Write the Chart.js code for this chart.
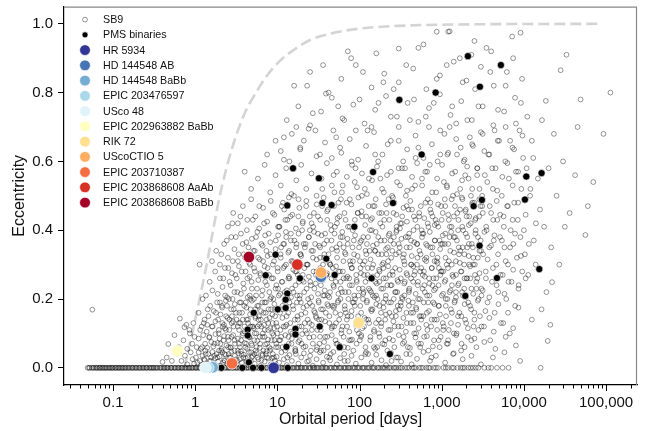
<!DOCTYPE html>
<html><head><meta charset="utf-8">
<script src="https://cdn.jsdelivr.net/npm/chart.js@4.4.0/dist/chart.umd.min.js"></script>
<style>html,body{margin:0;padding:0;background:#fff;}canvas{display:block;}</style>
</head><body>
<canvas id="c" width="647" height="431"></canvas>
<script>
// ---------- axis ticks ----------
const xMajorTicks = [0.1, 1, 10, 100, 1000, 10000, 100000];
const xMajorLabels = ['0.1', '1', '10', '100', '1,000', '10,000', '100,000'];
const xMinorTicks = [0.03,0.04,0.05,0.06,0.07,0.08,0.09,0.2,0.3,0.4,0.5,0.6,0.7,0.8,0.9,2,3,4,5,6,7,8,9,20,30,40,50,60,70,80,90,200,300,400,500,600,700,800,900,2000,3000,4000,5000,6000,7000,8000,9000,20000,30000,40000,50000,60000,70000,80000,90000,200000];
const yTickValues = [0.0, 0.2, 0.4, 0.6, 0.8, 1.0];

// ---------- envelope (dashed) ----------
const envelopePeriod = [0.74,0.9,1.13,1.38,1.65,1.95,2.4,3.0,4.0,5.5,7.5,10.5,16,25,45,100,300,1500,90000];
const envelopeEcc    = [0.0,0.09,0.2,0.3,0.4,0.49,0.58,0.66,0.74,0.8,0.85,0.89,0.925,0.953,0.972,0.986,0.994,0.998,1.0];

// ---------- SB9: circular orbits (e = 0) ----------
const sb9CircularPeriods = [0.049,0.052,0.055,0.058,0.061,0.064,0.067,0.07,0.073,0.077,0.08,0.084,0.088,0.092,0.096,0.1,0.105,0.11,0.115,0.12,0.126,0.132,0.138,0.145,0.152,0.16,0.168,0.176,0.185,0.195,0.205,0.215,0.226,0.237,0.25,0.26,0.275,0.29,0.3,0.315,0.33,0.35,0.37,0.39,0.41,0.43,0.45,0.47,0.5,0.52,0.55,0.58,0.61,0.64,0.67,0.7,0.74,0.78,0.82,0.86,0.9,0.95,1.0,1.05,1.1,1.16,1.22,1.28,1.35,1.42,1.5,1.58,1.66,1.75,1.85,1.95,2.05,2.15,2.27,2.4,2.52,2.65,2.8,2.95,3.1,3.27,3.45,3.6,3.8,4.0,4.2,4.45,4.7,4.95,5.2,5.5,5.8,6.1,6.4,6.8,7.2,7.6,8.0,8.4,8.9,9.4,9.9,10.5,11,11.6,12.2,12.9,13.6,14.3,15.1,16,17,18,19,20,21.2,22.5,24,25.5,27,28.5,30,32,34,36,38,40,43,46,49,52,56,60,64,68,72,77,82,88,94,100,108,115,123,132,142,152,165,178,190,205,220,240,260,280,300,330,360,400,440,480,530,590,650,720,800,900,1050,1200,1400,1550,1700,1900,2100,2400,2800,3300,4000,4700,5500,6500,16000,
0.051,0.057,0.063,0.069,0.075,0.082,0.09,0.098,0.108,0.118,0.129,0.141,0.155,0.172,0.19,0.21,0.232,0.255,0.282,0.31,0.34,0.38,0.42,0.46,0.51,0.565,0.625,0.69,0.76,0.84,0.92,1.02,1.13,1.25,1.38,1.54,1.7,1.9,2.1,2.34,2.58,2.87,3.2,3.53,3.9,4.33,4.82,5.35,5.95,6.6,7.4,8.2,9.1,10.2,11.3,12.5,14,15.5,17.5,19.5,21.8,24.7,27.7,31,35,39,44.5,50.5,58,66,74,85,97,111,128,147,170,198,230,270,315,380,460,560,690,850,1120,1330,1800,2250,2600,3700]

// ---------- SB9: eccentric orbits [period (d), eccentricity] ----------
const sb9Eccentric = [
[0.4,0.017],[0.45,0.03],[0.52,0.02],[0.6,0.04],[0.68,0.02],[0.75,0.035],[0.8,0.01],[0.88,0.045],[0.93,0.025],[0.97,0.012],
[1.02,0.03],[1.06,0.015],[1.1,0.045],[1.14,0.02],[1.19,0.008],[1.23,0.035],[1.28,0.025],[1.33,0.05],[1.38,0.012],[1.44,0.04],[1.5,0.02],[1.56,0.03],[1.62,0.046],[1.68,0.01],[1.75,0.028],[1.82,0.04],[1.9,0.018],[1.98,0.033],[2.06,0.006],[2.15,0.045],[2.24,0.022],[2.35,0.038],[2.46,0.012],[2.6,0.03],[2.75,0.047],[2.9,0.02],[3.05,0.035],
[3.2,0.01],[3.35,0.042],[3.5,0.025],[3.7,0.015],[3.9,0.038],[4.1,0.028],[4.3,0.008],[4.5,0.046],[4.75,0.02],[5.0,0.034],[5.3,0.012],[5.6,0.043],[5.9,0.025],[6.2,0.006],[6.6,0.036],[7.0,0.018],[7.4,0.048],[7.8,0.028],[8.3,0.01],[8.8,0.04],[9.3,0.022],[9.8,0.032],
[10.5,0.015],[11.2,0.045],[12,0.025],[13,0.008],[14,0.037],[15,0.02],[16.5,0.048],[18,0.012],[19.5,0.03],[21,0.042],[23,0.018],[25,0.035],[27,0.006],[30,0.025],[33,0.045],[36,0.015],[40,0.032],[44,0.022],[48,0.046],[53,0.01],[58,0.028],[65,0.04],[72,0.02],[80,0.035],[90,0.012],
[105,0.03],[120,0.045],[140,0.015],[160,0.038],[185,0.022],[210,0.008],[240,0.044],[280,0.03],[320,0.018],[370,0.04],[430,0.01],[500,0.026],[600,0.046],[720,0.02],[850,0.035],
[1100,0.015],[1400,0.042],[1800,0.025],[2300,0.035],[3000,0.01],[4200,0.03],[5800,0.045],[9000,0.02],
[0.47,0.069],[0.56,0.095],[0.63,0.06],[0.72,0.08],[0.8,0.055],[0.86,0.1],[0.92,0.07],[0.98,0.09],
[1.04,0.06],[1.1,0.085],[1.17,0.055],[1.25,0.095],[1.32,0.07],[1.4,0.058],[1.48,0.088],[1.57,0.075],[1.66,0.062],[1.76,0.098],[1.87,0.072],[1.98,0.085],[2.1,0.055],[2.25,0.092],[2.4,0.065],[2.55,0.08],[2.72,0.058],[2.9,0.095],[3.05,0.07],
[3.3,0.085],[3.5,0.06],[3.75,0.095],[4.0,0.072],[4.3,0.055],[4.6,0.088],[4.9,0.065],[5.3,0.1],[5.7,0.078],[6.1,0.058],[6.6,0.09],[7.1,0.068],[7.7,0.082],[8.3,0.055],[9,0.095],[9.7,0.07],
[10.5,0.08],[11.5,0.06],[12.5,0.095],[13.7,0.07],[15,0.085],[16.5,0.055],[18,0.075],[20,0.098],[22,0.062],[24.5,0.088],[27,0.07],[30,0.052],[33,0.09],[37,0.075],[41,0.06],[46,0.095],[51,0.08],[57,0.065],[64,0.09],[72,0.058],[81,0.082],[92,0.07],
[105,0.095],[118,0.06],[135,0.08],[155,0.055],[175,0.09],[200,0.068],[230,0.085],[265,0.06],[300,0.095],[350,0.075],[410,0.058],[480,0.088],[560,0.07],[660,0.092],[780,0.062],[920,0.08],
[1150,0.07],[1500,0.095],[1900,0.06],[2500,0.085],[3300,0.075],[4500,0.055],[6000,0.09],[8000,0.065],[19500,0.078],
[0.056,0.169],[0.65,0.143],[0.74,0.118],[0.78,0.125],[0.85,0.11],[0.95,0.13],[1.1,0.16],[1.2,0.12],
[1.23,0.2],[1.3,0.14],[1.38,0.105],[1.45,0.15],[1.52,0.18],[1.6,0.12],[1.68,0.165],[1.76,0.135],[1.85,0.19],[1.94,0.11],[2.03,0.155],[2.13,0.175],[2.24,0.125],[2.36,0.195],[2.48,0.145],[2.6,0.11],[2.74,0.17],[2.88,0.135],[3.03,0.185],
[3.3,0.12],[3.45,0.16],[3.6,0.19],[3.8,0.14],[4.0,0.105],[4.2,0.175],[4.4,0.13],[4.65,0.155],[4.9,0.195],[5.15,0.115],[5.4,0.145],[5.7,0.18],[6.0,0.125],[6.3,0.165],[6.65,0.1],[7.0,0.19],[7.4,0.14],[7.8,0.17],[8.2,0.115],[8.7,0.155],[9.2,0.185],[9.7,0.13],
[10.3,0.17],[10.9,0.11],[11.5,0.145],[12.2,0.195],[12.9,0.125],[13.6,0.16],[14.5,0.105],[15.4,0.18],[16.3,0.14],[17.3,0.19],[18.4,0.12],[19.5,0.155],[20.7,0.175],[22,0.108],[23.4,0.14],[24.8,0.188],[26.3,0.125],[28,0.165],[29.8,0.145],[31.7,0.195],[33.7,0.11],[35.8,0.17],[38,0.135],[40.5,0.185],[43,0.15],[45.7,0.115],[48.6,0.175],[51.7,0.13],[55,0.195],[58.5,0.155],[62,0.12],[66,0.18],[70,0.14],[75,0.105],[80,0.165],[85,0.19],[90,0.125],[96,0.15],
[102,0.18],[108,0.115],[115,0.145],[123,0.195],[131,0.13],[140,0.165],[150,0.105],[160,0.185],[171,0.14],[183,0.12],[196,0.175],[210,0.155],[225,0.11],[241,0.19],[258,0.135],[277,0.165],[297,0.12],[318,0.18],[341,0.145],[366,0.105],[393,0.195],[422,0.16],[453,0.13],[487,0.175],[523,0.115],[562,0.15],[604,0.19],[650,0.125],[700,0.165],[755,0.14],[815,0.185],[880,0.11],[950,0.155],
[1030,0.13],[1120,0.18],[1220,0.11],[1330,0.16],[1450,0.195],[1580,0.125],[1730,0.15],[1900,0.185],[2080,0.115],[2280,0.17],[2500,0.14],[2750,0.195],[3050,0.12],[3400,0.165],[3800,0.145],[4300,0.105],[4900,0.185],[5600,0.13],[6400,0.16],[7400,0.115],[8600,0.175],[12500,0.14],[16400,0.17],[21000,0.125],
[1.13,0.3],[1.35,0.21],[1.5,0.25],[1.62,0.225],[1.75,0.28],[1.88,0.215],[2.0,0.26],[2.15,0.235],[2.3,0.29],[2.45,0.205],[2.62,0.25],[2.8,0.275],[3.0,0.22],
[3.2,0.26],[3.4,0.295],[3.6,0.215],[3.85,0.245],[4.1,0.28],[4.35,0.205],[4.6,0.265],[4.9,0.23],[5.2,0.29],[5.5,0.21],[5.85,0.255],[6.2,0.275],[6.6,0.225],[7.0,0.295],[7.45,0.24],[7.9,0.27],[8.4,0.205],[8.9,0.26],[9.5,0.23],
[10.1,0.28],[10.8,0.215],[11.5,0.25],[12.2,0.295],[13,0.225],[13.8,0.265],[14.7,0.205],[15.6,0.285],[16.6,0.24],[17.7,0.27],[18.8,0.21],[20,0.255],[21.3,0.29],[22.7,0.23],[24.2,0.265],[25.8,0.205],[27.5,0.28],[29.3,0.245],[31.2,0.215],[33.2,0.29],[35.4,0.255],[37.7,0.225],[40.2,0.275],[42.8,0.205],[45.6,0.26],[48.6,0.235],[51.8,0.295],[55.2,0.215],[58.8,0.25],[62.7,0.28],[66.8,0.22],[71.2,0.265],[75.9,0.24],[80.9,0.29],[86.2,0.21],[91.9,0.255],[98,0.23],
[104,0.275],[111,0.215],[118,0.25],[126,0.29],[134,0.225],[143,0.265],[152,0.205],[162,0.245],[173,0.285],[184,0.23],[196,0.26],[209,0.21],[223,0.295],[238,0.24],[254,0.27],[271,0.22],[289,0.255],[308,0.285],[328,0.205],[350,0.245],[373,0.275],[398,0.225],[424,0.26],[452,0.295],[482,0.215],[514,0.25],[548,0.28],[584,0.23],[623,0.265],[664,0.21],[708,0.245],[755,0.29],[805,0.225],[858,0.26],[915,0.24],[975,0.28],
[1040,0.215],[1110,0.255],[1190,0.29],[1280,0.225],[1380,0.265],[1490,0.205],[1610,0.245],[1740,0.28],[1880,0.23],[2040,0.26],[2220,0.295],[2420,0.215],[2640,0.25],[2880,0.275],[3150,0.225],[3450,0.26],[3800,0.205],[4200,0.29],[4650,0.24],[5200,0.27],[5800,0.215],[6500,0.25],[7400,0.285],[8600,0.23],[10500,0.26],[22000,0.249],
[1.6,0.31],[1.8,0.34],[2.0,0.3],[2.25,0.36],[2.5,0.32],[2.75,0.38],[3.0,0.345],[3.3,0.31],[3.6,0.39],[3.9,0.33],[4.2,0.365],[4.55,0.305],[4.9,0.375],[5.3,0.34],[5.7,0.395],[6.1,0.315],[6.6,0.355],[7.1,0.385],[7.6,0.325],[8.2,0.365],[8.8,0.3],[9.5,0.345],
[10.2,0.385],[11,0.32],[11.8,0.36],[12.7,0.395],[13.6,0.335],[14.6,0.37],[15.7,0.305],[16.9,0.35],[18.1,0.39],[19.5,0.325],[20.9,0.36],[22.5,0.3],[24.2,0.38],[26,0.34],[27.9,0.395],[30,0.315],[32.2,0.355],[34.6,0.385],[37.2,0.33],[40,0.37],[43,0.305],[46.2,0.345],[49.6,0.39],[53.3,0.32],[57.3,0.36],[61.6,0.395],[66.2,0.335],[71.1,0.375],[76.4,0.31],[82.1,0.35],[88.2,0.385],[94.8,0.325],
[102,0.365],[110,0.3],[118,0.34],[127,0.38],[136,0.315],[146,0.355],[157,0.395],[169,0.33],[182,0.37],[195,0.305],[210,0.345],[226,0.385],[243,0.32],[261,0.36],[280,0.395],[301,0.335],[324,0.375],[348,0.31],[374,0.35],[402,0.39],[432,0.325],[464,0.365],[499,0.3],[536,0.34],[576,0.38],[620,0.315],[666,0.355],[716,0.395],[770,0.33],[828,0.37],[890,0.305],[957,0.345],
[1030,0.385],[1110,0.32],[1200,0.36],[1300,0.395],[1410,0.335],[1530,0.37],[1660,0.305],[1800,0.35],[1960,0.39],[2130,0.325],[2320,0.36],[2530,0.3],[2760,0.38],[3010,0.34],[3300,0.395],[3620,0.315],[3980,0.355],[4380,0.385],[4850,0.33],[5400,0.37],[6000,0.31],[6800,0.35],[7800,0.39],[9200,0.325],[11500,0.36],[31500,0.41],
[2.5,0.41],[2.9,0.45],[3.3,0.42],[3.8,0.47],[4.3,0.43],[4.8,0.49],[5.4,0.44],[6.0,0.405],[6.7,0.465],[7.5,0.425],[8.3,0.485],[9.2,0.445],
[10.2,0.41],[11.3,0.47],[12.5,0.43],[13.8,0.495],[15.2,0.445],[16.8,0.405],[18.5,0.465],[20.4,0.425],[22.5,0.485],[24.8,0.44],[27.3,0.41],[30.1,0.475],[33.2,0.43],[36.6,0.495],[40.3,0.455],[44.4,0.415],[48.9,0.47],[53.9,0.435],[59.4,0.49],[65.5,0.45],[72.2,0.41],[79.6,0.475],[87.7,0.43],[96.7,0.495],
[106,0.455],[117,0.415],[129,0.47],[142,0.435],[157,0.49],[173,0.45],[190,0.41],[210,0.475],[231,0.43],[255,0.495],[281,0.445],[310,0.405],[342,0.465],[377,0.425],[415,0.485],[458,0.44],[505,0.41],[556,0.47],[613,0.435],[676,0.49],[745,0.45],[821,0.415],[905,0.475],[998,0.43],
[1090,0.49],[1200,0.445],[1320,0.41],[1450,0.47],[1600,0.43],[1760,0.495],[1940,0.455],[2140,0.415],[2360,0.475],[2600,0.435],[2870,0.49],[3160,0.45],[3480,0.41],[3840,0.47],[4230,0.43],[4670,0.485],[5150,0.445],[5700,0.41],[6400,0.47],[7300,0.43],[8500,0.48],[10500,0.445],[14000,0.42],[56000,0.386],
[4.0,0.57],[4.8,0.52],[5.8,0.55],[7.0,0.59],[8.2,0.51],[9.5,0.56],[11,0.53],[12.8,0.58],[14.8,0.505],[17,0.545],[19.5,0.59],[22.5,0.52],[26,0.565],[30,0.5],[34.5,0.55],[40,0.595],[46,0.53],[53,0.57],[61,0.51],[70,0.555],[81,0.59],[93,0.525],[107,0.565],[123,0.505],[142,0.545],[163,0.585],[188,0.52],[216,0.56],[249,0.5],[286,0.54],[329,0.58],[379,0.515],[436,0.555],[502,0.595],[578,0.53],[665,0.57],[765,0.51],[880,0.55],[1010,0.59],[1160,0.525],[1340,0.565],[1540,0.505],[1770,0.545],[2040,0.585],[2350,0.52],[2700,0.56],[3110,0.5],[3580,0.54],[4120,0.58],[4740,0.515],[5460,0.555],[6300,0.595],[7300,0.53],[8500,0.57],[12000,0.52],[42000,0.56],[70000,0.54],
[7.5,0.62],[9.5,0.66],[12,0.605],[15,0.68],[19,0.635],[24,0.695],[30,0.615],[38,0.655],[48,0.69],[60,0.625],[76,0.665],[96,0.605],[120,0.645],[150,0.685],[190,0.62],[240,0.66],[300,0.7],[380,0.635],[480,0.675],[600,0.61],[760,0.65],[960,0.69],[1200,0.625],[1500,0.665],[1900,0.605],[2400,0.645],[3000,0.685],[3800,0.62],[4800,0.66],[6000,0.7],[7600,0.635],[9600,0.675],[13000,0.61],[93000,0.68],
[13,0.72],[18,0.76],[25,0.705],[34,0.745],[46,0.785],[62,0.725],[84,0.765],[115,0.71],[155,0.75],[210,0.79],[285,0.73],[385,0.77],[520,0.715],[700,0.755],[950,0.795],[1280,0.735],[1730,0.775],[2330,0.72],[3150,0.76],[4250,0.705],[5750,0.745],[7800,0.785],[11000,0.73],[18500,0.776],[49000,0.78],
[16,0.82],[39,0.797],[25,0.86],[60,0.84],[90,0.88],[140,0.815],[200,0.855],[300,0.83],[450,0.87],[650,0.81],[950,0.85],[1400,0.89],[2000,0.835],[3000,0.875],[4300,0.82],[6200,0.86],[9500,0.84],[28000,0.865],[113000,0.8],
[79,0.9],[160,0.914],[300,0.928],[870,0.977],[1200,0.977],[1250,0.978],[9100,0.974],[7200,0.963],[600,0.94],[2500,0.95],[33000,0.91],[4000,0.92],
[2.02,0.07],[2.08,0.33],[2.11,0.18],[2.17,0.12],[2.2,0.26],[2.28,0.04],[2.31,0.21],[2.38,0.15],[2.42,0.37],[2.5,0.09],[2.53,0.29],[2.58,0.2],[2.66,0.06],[2.7,0.24],[2.78,0.13],[2.83,0.42],[2.86,0.31],[2.95,0.17],[3.02,0.08],[3.08,0.27],[3.12,0.38],[3.18,0.14],[3.25,0.22],[3.3,0.05],[3.38,0.33],[3.42,0.11],[3.48,0.19],[3.55,0.44],[3.62,0.08],[3.68,0.28],[3.72,0.16],[3.78,0.36],[3.85,0.03],[3.92,0.23],[3.98,0.12],[4.05,0.32],[4.12,0.19],[4.18,0.07],[4.25,0.4],[4.32,0.26],[4.38,0.14],[4.45,0.35],[4.52,0.09],[4.6,0.21],[4.66,0.3],[4.72,0.17],[4.8,0.045],[4.86,0.25],[4.93,0.12],[5.02,0.43],[5.1,0.34],[5.18,0.2],[5.25,0.08],[5.33,0.28],[5.42,0.15],[5.5,0.38],[5.58,0.06],[5.66,0.23],[5.75,0.12],[5.83,0.32],[5.92,0.18],[6.02,0.47],[6.1,0.09],[6.2,0.27],[6.3,0.14],[6.38,0.36],[6.48,0.21],[6.58,0.04],[6.7,0.31],[6.78,0.16],[6.9,0.42],[7.02,0.11],[7.12,0.25],[7.25,0.19],[7.35,0.34],[7.48,0.07],[7.6,0.29],[7.72,0.13],[7.85,0.39],[7.98,0.22],[8.1,0.05],[8.25,0.33],[8.38,0.17],[8.52,0.26],[8.66,0.1],[8.8,0.45],[8.95,0.2],[9.1,0.31],[9.25,0.08],[9.4,0.15],[9.56,0.37],[9.72,0.24],[9.9,0.12],
[10.05,0.29],[10.2,0.06],[10.4,0.21],[10.6,0.41],[10.75,0.16],[10.95,0.33],[11.1,0.09],[11.3,0.25],[11.5,0.18],[11.7,0.48],[11.9,0.12],[12.1,0.36],[12.3,0.22],[12.5,0.05],[12.75,0.3],[12.95,0.15],[13.2,0.43],[13.4,0.2],[13.65,0.09],[13.9,0.34],[14.1,0.26],[14.35,0.13],[14.6,0.39],[14.85,0.07],[15.1,0.23],[15.4,0.31],[15.65,0.17],[15.9,0.5],[16.2,0.11],[16.5,0.28],[16.8,0.04],[17.1,0.36],[17.4,0.21],[17.7,0.14],[18,0.44],[18.3,0.25],[18.65,0.08],[19,0.33],[19.3,0.19],[19.7,0.12],[20,0.4],[20.4,0.27],[20.8,0.06],[21.2,0.22],[21.6,0.35],[22,0.16],[22.4,0.47],[22.8,0.1],[23.2,0.3],[23.7,0.2],[24.1,0.38],[24.6,0.13],[25.1,0.25],[25.6,0.05],[26.1,0.42],[26.6,0.18],[27.1,0.32],[27.6,0.09],[28.2,0.23],[28.8,0.36],[29.4,0.15],[30,0.28],
[30.6,0.11],[31.2,0.44],[31.9,0.19],[32.5,0.07],[33.1,0.35],[33.8,0.24],[34.5,0.14],[35.2,0.52],[35.9,0.3],[36.6,0.05],[37.3,0.21],[38.1,0.39],[38.8,0.16],[39.6,0.27],[40.4,0.09],[41.2,0.46],[42,0.33],[42.9,0.13],[43.7,0.22],[44.6,0.04],[45.5,0.37],[46.4,0.18],[47.3,0.29],[48.3,0.56],[49.2,0.12],[50.2,0.41],[51.2,0.25],[52.2,0.07],[53.3,0.34],[54.3,0.19],[55.4,0.48],[56.5,0.14],[57.7,0.28],[58.8,0.38],[60,0.1],[61.2,0.22],[62.4,0.53],[63.7,0.31],[65,0.06],[66.3,0.17],[67.6,0.43],[69,0.26],[70.4,0.12],[71.8,0.36],[73.2,0.2],[74.7,0.08],[76.2,0.49],[77.7,0.3],[79.3,0.15],[80.9,0.24],[82.5,0.4],[84.1,0.05],[85.8,0.33],[87.5,0.18],[89.3,0.58],[91.1,0.27],[92.9,0.11],[94.8,0.45],[96.7,0.21],[98.6,0.35],
[100.6,0.08],[102.6,0.29],[104.7,0.16],[106.8,0.5],[108.9,0.23],[111.1,0.38],[113.3,0.12],[115.6,0.31],[117.9,0.04],[120.3,0.44],[122.7,0.19],[125.1,0.27],[127.6,0.14],[130.2,0.55],[132.8,0.34],[135.5,0.09],[138.2,0.22],[141,0.4],[143.8,0.17],[146.7,0.3],[149.6,0.06],[152.6,0.47],[155.7,0.25],[158.8,0.13],[162,0.36],[165.2,0.2],[168.5,0.6],[171.9,0.1],[175.3,0.28],[178.8,0.42],[182.4,0.16],[186,0.33],[189.8,0.07],[193.6,0.23],[197.5,0.51],[201.4,0.37],[205.4,0.14],[209.5,0.26],[213.7,0.45],[218,0.05],[222.4,0.31],[226.8,0.19],[231.4,0.39],[236,0.11],[240.7,0.57],[245.5,0.24],[250.4,0.34],[255.4,0.08],[260.5,0.2],[265.7,0.48],[271,0.29],[276.5,0.15],[282,0.41],[287.6,0.22],[293.4,0.03],[299.3,0.36],[305.3,0.17],[311.4,0.53],[317.6,0.26],[324,0.12],[330.5,0.44],[337.1,0.32],[343.8,0.09],[350.7,0.21],[357.7,0.58],[364.9,0.38],[372.2,0.16],[379.6,0.27],[387.2,0.06],[395,0.46],[402.9,0.23],[410.9,0.35],[419.1,0.13],[427.5,0.3],[436.1,0.52],[444.8,0.19],[453.7,0.4],[462.8,0.1],[472,0.28],[481.5,0.61],[491.1,0.17],[500.9,0.36],[510.9,0.24],[521.1,0.07],[531.6,0.45],[542.2,0.2],[553,0.33],[564.1,0.14],[575.4,0.55],[586.9,0.27],[598.6,0.39],[610.6,0.09],[622.8,0.22],[635.3,0.48],[648,0.31],[661,0.16],[674.2,0.42],[687.7,0.05],[701.4,0.26],[715.4,0.59],[729.7,0.35],[744.3,0.12],[759.2,0.29],[774.4,0.44],[789.9,0.19],[805.7,0.08],[821.8,0.37],[838.2,0.23],[855,0.51],[872.1,0.14],[889.5,0.32],[907.3,0.41],[925.5,0.18],[944,0.06],[962.9,0.27],[982.2,0.47],
[1002,0.21],[1022,0.36],[1042,0.11],[1063,0.54],[1084,0.25],[1106,0.39],[1128,0.15],[1150,0.3],[1173,0.62],[1197,0.08],[1221,0.43],[1245,0.22],[1270,0.34],[1295,0.13],[1321,0.49],[1348,0.27],[1375,0.04],[1402,0.38],[1430,0.19],[1459,0.57],[1488,0.31],[1518,0.1],[1548,0.45],[1579,0.24],[1611,0.35],[1643,0.16],[1676,0.52],[1709,0.28],[1743,0.07],[1778,0.41],[1814,0.21],[1850,0.6],[1887,0.33],[1925,0.14],[1963,0.46],[2003,0.26],[2043,0.38],[2083,0.09],[2125,0.55],[2167,0.3],[2211,0.18],[2255,0.42],[2300,0.23],[2346,0.65],[2393,0.35],[2441,0.12],[2490,0.48],[2540,0.27],[2590,0.4],[2642,0.06],[2695,0.58],[2749,0.32],[2804,0.2],[2860,0.44],[2917,0.15],[2975,0.37],
[31,0.27],[34,0.17],[37,0.32],[41,0.21],[44,0.3],[49,0.18],[53,0.42],[59,0.23],[64,0.35],[68,0.16],[75,0.26],[83,0.31],[88,0.2],[97,0.13],[105,0.37],[112,0.22],[121,0.33],[128,0.26],[137,0.43],[145,0.21],[154,0.34],[164,0.27],[174,0.18],[185,0.45],[195,0.29],[207,0.2],[220,0.35],[233,0.27],[247,0.15],[262,0.38],[278,0.33],[295,0.25],[314,0.42],[332,0.2],[353,0.3],[375,0.47],[398,0.18],[423,0.37],[449,0.25],[477,0.43],[507,0.32],[538,0.15],[571,0.4],[607,0.28],[644,0.36],[684,0.19],[726,0.46],[771,0.24],[819,0.31],[870,0.42],[923,0.29],[980,0.36],[1041,0.28],[1105,0.47],[1173,0.2],[1246,0.38],[1323,0.3],[1404,0.44],[1491,0.22],[1583,0.4],[1681,0.34],[1785,0.49],[1895,0.26],[2012,0.44],[2137,0.36],[2269,0.5],[2409,0.3],[2558,0.43],[2716,0.26],[2884,0.52],
[3040,0.23],[3110,0.47],[3190,0.33],[3270,0.12],[3350,0.56],[3430,0.28],[3520,0.4],[3610,0.19],[3700,0.62],[3790,0.35],[3890,0.08],[3990,0.45],[4090,0.25],[4190,0.52],[4300,0.37],[4410,0.16],[4520,0.58],[4630,0.3],[4750,0.43],[4870,0.22],[4990,0.66],[5120,0.38],[5250,0.13],[5380,0.5],[5520,0.27],[5660,0.44],[5800,0.35],[5950,0.6],[6100,0.2],[6250,0.47],[6410,0.3],[6570,0.55],[6740,0.1],[6910,0.4],[7080,0.25],[7260,0.64],[7440,0.36],[7630,0.48],[7820,0.18],[8020,0.57],[8220,0.32],[8430,0.43],[8640,0.24],[8860,0.69],[9080,0.38],[9310,0.52],[9550,0.28],[9790,0.61],[10000,0.4],[10300,0.33],[10800,0.58],[11300,0.27],[11900,0.5],[12500,0.66],[13200,0.37],[13900,0.3],[14800,0.55],[15700,0.46],[16600,0.72],[17600,0.41],[18800,0.22],[20000,0.58],[21500,0.35],[23200,0.68],[25000,0.5],[27000,0.3],[30000,0.6],[36000,0.45],[45000,0.7],[60000,0.47],
[11,0.63],[14,0.6],[17,0.7],[21,0.66],[27,0.74],[33,0.62],[42,0.8],[52,0.67],[65,0.72],[80,0.6],[100,0.78],[125,0.69],[155,0.62],[195,0.83],[240,0.73],[300,0.66],[370,0.88],[460,0.78],[570,0.62],[700,0.7],[870,0.84],[1080,0.68],[1340,0.76],[1660,0.9],[2050,0.72],[2550,0.81],[3150,0.68],[3900,0.86],[4850,0.75],[6000,0.82],[7400,0.9],[9200,0.77],
[23,0.82],[36,0.88],[55,0.76],[72,0.92],[110,0.86],[170,0.77],[260,0.81],[410,0.72],[520,0.93],[800,0.77],[1150,0.88],[1500,0.71],[1800,0.83],[2300,0.91],[2800,0.76],[3500,0.93],[5200,0.88],[8000,0.71],
[12,0.67],[19,0.64],[29,0.69],[46,0.61],[58,0.64],[90,0.69],[140,0.7],[220,0.65],[340,0.6],[520,0.64],[640,0.73],[960,0.62],[1250,0.7],[1700,0.64],[2200,0.67],[3300,0.63],[4400,0.69],[6800,0.66],
[1.3,0.022],[1.46,0.008],[1.7,0.035],[1.95,0.05],[2.2,0.015],[2.55,0.04],[3.15,0.025],[3.6,0.048],[4.2,0.018],[4.85,0.03],[5.45,0.05],[6.4,0.022],[7.2,0.04],[8.6,0.028],[9.6,0.01],[1.15,0.11],[1.4,0.125],[1.9,0.14],[2.3,0.115],[2.8,0.15],[3.4,0.13],[4.7,0.12],[5.9,0.14],[6.9,0.125],[8.0,0.145],[9.1,0.115],
[1.21,0.06],[1.27,0.13],[1.34,0.04],[1.42,0.17],[1.49,0.09],[1.55,0.02],[1.63,0.12],[1.71,0.07],[1.79,0.16],[1.86,0.03],[1.93,0.1],[2.0,0.19],[2.07,0.05],[2.14,0.13],[2.21,0.08],[2.29,0.02],[2.37,0.11],[2.44,0.18],[2.52,0.06],[2.61,0.14],[2.69,0.03],[2.77,0.09],[2.85,0.2],[2.93,0.12],[3.01,0.05],[3.14,0.16],[3.27,0.02],[3.41,0.07],[3.53,0.13],[3.66,0.04],[3.81,0.1],[3.95,0.18],[4.08,0.06],[4.22,0.14],[4.37,0.03],[4.54,0.09],[4.69,0.2],[4.83,0.07],[5.05,0.12],[5.22,0.04],[5.38,0.17],[5.55,0.1],[5.73,0.03],[5.95,0.15],[6.15,0.07],[6.35,0.12],[6.55,0.19],[6.77,0.05],[6.98,0.09],[7.22,0.16],[7.46,0.03],[7.7,0.11],[7.95,0.06],[8.2,0.2],[8.48,0.08],[8.75,0.13],[9.05,0.03],[9.35,0.17],[9.65,0.06],[9.95,0.1],
[10.2,0.23],[10.5,0.41],[10.8,0.08],[11.1,0.35],[11.4,0.17],[11.8,0.29],[12.1,0.46],[12.5,0.12],[12.8,0.38],[13.2,0.03],[13.6,0.26],[14,0.19],[14.4,0.44],[14.8,0.31],[15.2,0.1],[15.7,0.22],[16.1,0.37],[16.6,0.05],[17.1,0.28],[17.6,0.15],[18.1,0.49],[18.6,0.2],[19.2,0.33],[19.7,0.07],[20.3,0.42],[20.9,0.25],[21.5,0.13],[22.1,0.36],[22.8,0.18],[23.4,0.3],[24.1,0.02],[24.8,0.4],[25.5,0.24],[26.3,0.11],[27.1,0.34],[27.8,0.45],[28.7,0.16],[29.5,0.27],[30.4,0.06],[31.2,0.39],
[32.1,0.14],[33.1,0.32],[34,0.05],[35,0.47],[36,0.21],[37.1,0.36],[38.2,0.09],[39.3,0.27],[40.4,0.43],[41.6,0.18],[42.8,0.03],[44,0.3],[45.3,0.4],[46.6,0.12],[48,0.24],[49.4,0.51],[50.8,0.16],[52.3,0.35],[53.8,0.07],[55.4,0.28],[57,0.44],[58.6,0.2],[60.3,0.11],[62.1,0.38],[63.9,0.26],[65.7,0.02],[67.6,0.33],[69.6,0.48],[71.6,0.15],[73.7,0.22],[75.8,0.41],[78,0.08],[80.3,0.29],[82.6,0.19],[85,0.37],[87.5,0.54],[90,0.13],[92.6,0.25],[95.3,0.45],[98.1,0.1],
[101,0.31],[104,0.09],[107,0.44],[110,0.2],[113,0.27],[116,0.52],[120,0.14],[123,0.36],[127,0.04],[130,0.23],[134,0.4],[138,0.17],[142,0.29],[146,0.47],[150,0.11],[155,0.34],[159,0.21],[164,0.06],[169,0.38],[174,0.25],[179,0.55],[184,0.13],[189,0.3],[195,0.19],[200,0.43],[206,0.08],[212,0.33],[218,0.24],[225,0.49],[231,0.16],[238,0.37],[245,0.02],[252,0.28],[259,0.45],[267,0.12],[275,0.22],[283,0.4],[291,0.18],[299,0.58],[308,0.35],
[317,0.19],[326,0.42],[336,0.07],[346,0.33],[356,0.25],[366,0.5],[377,0.13],[388,0.38],[399,0.22],[411,0.04],[423,0.3],[435,0.46],[448,0.16],[461,0.27],[474,0.53],[488,0.1],[502,0.36],[517,0.2],[532,0.44],[547,0.06],[563,0.29],[580,0.39],[596,0.15],[614,0.24],[632,0.57],[650,0.32],[669,0.11],[688,0.41],[708,0.21],[729,0.48],[750,0.03],[772,0.35],[794,0.26],[817,0.14],[841,0.43],[866,0.31],[891,0.6],[917,0.18],[943,0.37],[971,0.09],
[999,0.28],[1028,0.45],[1058,0.12],[1089,0.36],[1120,0.2],[1153,0.53],[1186,0.07],[1221,0.31],[1256,0.41],[1293,0.17],[1330,0.24],[1369,0.5],[1409,0.1],[1450,0.38],[1492,0.27],[1535,0.62],[1580,0.15],[1626,0.33],[1673,0.46],[1721,0.05],[1771,0.22],[1823,0.4],[1876,0.3],[1930,0.56],[1986,0.13],[2044,0.35],[2103,0.19],[2164,0.44],[2227,0.26],[2292,0.08],[2358,0.48],[2427,0.32],[2497,0.16],[2570,0.39],[2644,0.23],[2721,0.58],[2800,0.11],[2881,0.34],[2965,0.47],[3050,0.21]
];

// ---------- PMS binaries ----------
const pmsPeriod = [2083,5250,2915,843,305,570,15.5,146,16400,10700,32,3085,10300,13.2,35.3,45.7,255,2445,86.4,2890,9.5,39.4,15400,7.2,49.8,18.8,140,4700,1937,13.2,12.6,10.1,12.6,5.15,32.7,4.35,4.35,16.6,16.6,12.9,57.3,234,4.5,2.08,3.75,5.05,6.4,13.4];
const pmsEcc    = [0.906,0.88,0.817,0.80,0.779,0.62,0.58,0.569,0.566,0.556,0.551,0.488,0.489,0.472,0.479,0.473,0.479,0.47,0.41,0.355,0.329,0.317,0.287,0.269,0.27,0.26,0.26,0.261,0.209,0.216,0.198,0.17,0.174,0.16,0.12,0.111,0.094,0.113,0.097,0.061,0.06,0.04,0.016,0,0,0,0,0];

// ---------- highlighted systems ----------
const targetNames   = ['HR 5934','HD 144548 AB','HD 144548 BaBb','EPIC 203476597','USco 48','EPIC 202963882 BaBb','RIK 72','UScoCTIO 5','EPIC 203710387','EPIC 203868608 AaAb','EPIC 203868608 BaBb'];
const targetColors  = ['#313695','#4575b4','#74add1','#abd9e9','#e0f3f8','#ffffbf','#fee090','#fdae61','#f46d43','#d73027','#a50026'];
const targetPeriods = [9.0, 33.9, 1.63, 1.44, 1.33, 0.61, 97.8, 34.0, 2.8, 17.5, 4.5];
const targetEcc     = [0.0, 0.265, 0.0015, 0.0, 0.0, 0.049, 0.131, 0.277, 0.013, 0.30, 0.322];

// ---------- build datasets ----------
const FONT = '"Liberation Sans", Arial, sans-serif';
const sb9Data = sb9CircularPeriods.map(p => ({x: p, y: 0})).concat(sb9Eccentric.map(d => ({x: d[0], y: d[1]})));
const datasets = [
  {label: 'SB9', data: sb9Data, type: 'scatter', pointRadius: 2.4, pointHoverRadius: 2.4,
   backgroundColor: 'transparent', borderColor: 'rgba(0,0,0,0.46)', borderWidth: 0.9, order: 100,
   inLegend: true, legendRadius: 2.4},
  {label: 'PMS binaries', data: pmsPeriod.map((p,i) => ({x: p, y: pmsEcc[i]})), type: 'scatter',
   pointRadius: 3.6, pointHoverRadius: 3.6, backgroundColor: '#000', borderColor: '#fff', borderWidth: 0.6, order: 50,
   inLegend: true, legendRadius: 3.0}
];
targetNames.forEach((n, i) => {
  datasets.push({label: n, data: [{x: targetPeriods[i], y: targetEcc[i]}], type: 'scatter',
    pointRadius: 5.8, pointHoverRadius: 5.8, backgroundColor: targetColors[i], borderColor: 'rgba(255,255,255,0.9)',
    borderWidth: 0.8, order: 40 - i, inLegend: true, legendRadius: 5.4});
});
datasets.push({label: 'envelope', data: envelopePeriod.map((p,i) => ({x: p, y: envelopeEcc[i]})), type: 'line',
  showLine: true, pointRadius: 0, borderColor: '#d4d4d4', borderWidth: 2.6, borderDash: [11, 5],
  cubicInterpolationMode: 'monotone', fill: false, order: 200, inLegend: false});

// ---------- plugins ----------
const framePlugin = {
  id: 'frame',
  beforeDatasetsDraw(chart) {
    const {ctx, chartArea: a} = chart;
    ctx.save();
    ctx.strokeStyle = '#888'; ctx.lineWidth = 1.2;
    ctx.beginPath(); ctx.moveTo(a.left, a.top + 0.5); ctx.lineTo(a.right - 0.5, a.top + 0.5); ctx.lineTo(a.right - 0.5, a.bottom); ctx.stroke();
    ctx.restore();
  },
  afterDraw(chart) {
    const {ctx, chartArea: a} = chart;
    const s = chart.scales.x;
    ctx.save();
    ctx.strokeStyle = '#000'; ctx.lineWidth = 1;
    s.ticks.forEach(t => {
      const px = Math.round(s.getPixelForValue(t.value)) + 0.5;
      const len = xMajorTicks.includes(t.value) ? 6 : 3.5;
      ctx.beginPath(); ctx.moveTo(px, a.bottom); ctx.lineTo(px, a.bottom + len); ctx.stroke();
    });
    const items = chart.data.datasets.filter(d => d.inLegend);
    ctx.font = '10.7px ' + FONT;
    ctx.textBaseline = 'middle'; ctx.textAlign = 'left';
    items.forEach((d, i) => {
      const x = a.left + 21, y = a.top + 13 + i * 15.25;
      ctx.beginPath(); ctx.arc(x, y, d.legendRadius, 0, Math.PI * 2);
      if (d.backgroundColor !== 'transparent') { ctx.fillStyle = d.backgroundColor; ctx.fill(); }
      ctx.lineWidth = d.borderWidth; ctx.strokeStyle = d.borderColor; ctx.stroke();
      ctx.fillStyle = '#111';
      ctx.fillText(d.label, a.left + 39, y + 0.5);
    });
    ctx.restore();
  }
};

new Chart(document.getElementById('c'), {
  type: 'scatter',
  data: {datasets},
  options: {
    responsive: false, animation: false, devicePixelRatio: 1,
    layout: {padding: {top: 2, right: 10, left: 0, bottom: 0}},
    plugins: {legend: {display: false}, tooltip: {enabled: false}},
    scales: {
      x: {
        type: 'logarithmic', min: 0.0253, max: 238000,
        afterBuildTicks: s => { s.ticks = xMajorTicks.concat(xMinorTicks).sort((a,b)=>a-b).map(v => ({value: v})); },
        afterFit: s => { s.height = 46; s.paddingLeft = 0; s.paddingRight = 0; },
        grid: {display: true, drawOnChartArea: false, drawTicks: false},
        border: {display: true, color: '#000', width: 1.2},
        ticks: {autoSkip: false, maxRotation: 0, padding: 9, color: '#111', font: {family: FONT, size: 15},
          callback: v => { const k = xMajorTicks.indexOf(v); return k >= 0 ? xMajorLabels[k] : ''; }},
        title: {display: true, text: 'Orbital period [days]', color: '#111',
          font: {family: FONT, size: 16}, padding: {top: 0, bottom: 1.5}}
      },
      y: {
        type: 'linear', min: -0.05, max: 1.05,
        afterBuildTicks: s => { s.ticks = yTickValues.map(v => ({value: v})); },
        afterFit: s => { s.width = 64; s.paddingTop = 0; s.paddingBottom = 0; },
        grid: {display: true, drawOnChartArea: false, drawTicks: true, tickLength: 6, tickColor: '#000', tickWidth: 1},
        border: {display: true, color: '#000', width: 1.2},
        ticks: {padding: 5, color: '#111', font: {family: FONT, size: 15}, callback: v => v.toFixed(1)},
        title: {display: true, text: 'Eccentricity', color: '#111',
          font: {family: FONT, size: 16}, padding: {top: 10, bottom: 0}}
      }
    }
  },
  plugins: [framePlugin]
});
</script>
</body></html>
